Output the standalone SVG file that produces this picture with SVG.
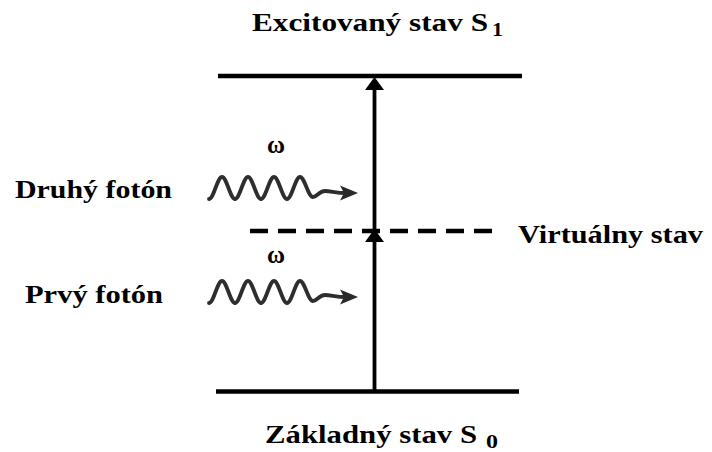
<svg xmlns="http://www.w3.org/2000/svg" width="712" height="452" viewBox="0 0 712 452">
<style>
.lbl{font-family:'Liberation Serif',serif;font-weight:700;font-size:25px;fill:#000}
.sub{font-family:'Liberation Serif',serif;font-weight:700;font-size:19px;fill:#000}
.om{font-family:'Liberation Serif',serif;font-weight:700;font-size:25px;fill:#000}
.lvl{stroke:#000;stroke-width:4.5;fill:none}
.wave{stroke:#2e2e2e;stroke-width:3.8;fill:none;stroke-linecap:round}
</style>
<defs>
<g id="photon">
<path class="wave" d="M209,199 C213.7,199 217.3,177 222,177 C226.7,177 230.3,199 235,199 C239.7,199 243.3,177 248,177 C252.7,177 256.3,199 261,199 C265.7,199 269.3,177 274,177 C278.7,177 282.3,199 287,199 C291.7,199 295.3,177 300,177 C304.7,177 308,197 313,197 C317,197 319,191 325,191 C331,191 336,193 346,193"/>
<polygon points="358,193 340,185.5 344,193 340,200.5" fill="#2a2a2a"/>
</g>
</defs>
<g id="ground-level"><line class="lvl" x1="216" y1="391.5" x2="519" y2="391.5"/></g>
<g id="excited-level"><line class="lvl" x1="218" y1="76" x2="522" y2="76"/></g>
<g id="virtual-level"><line class="lvl" x1="250" y1="231" x2="492" y2="231" stroke-dasharray="18 10"/></g>
<g id="connectors">
<line x1="374.5" y1="392" x2="374.5" y2="80" stroke="#000" stroke-width="3.8"/>
<polygon points="374.5,77 365,90 384,90" fill="#000"/>
<polygon points="374.5,229 365,242 384,242" fill="#000"/>
</g>
<g id="photon1"><use href="#photon"/><text class="om" x="267" y="153" textLength="18" lengthAdjust="spacingAndGlyphs">ω</text></g>
<g id="photon2"><use href="#photon" transform="translate(0,104)"/><text class="om" x="267" y="263" textLength="18" lengthAdjust="spacingAndGlyphs">ω</text></g>
<g id="label-excited"><text class="lbl" x="252" y="31" textLength="236" lengthAdjust="spacingAndGlyphs">Excitovaný stav S</text><text class="sub" x="492" y="36" textLength="11" lengthAdjust="spacingAndGlyphs">1</text></g>
<g id="label-ground"><text class="lbl" x="265" y="443" textLength="212" lengthAdjust="spacingAndGlyphs">Základný stav S</text><text class="sub" x="486" y="448" textLength="12" lengthAdjust="spacingAndGlyphs">0</text></g>
<g id="label-virtual"><text class="lbl" x="518" y="243" textLength="185" lengthAdjust="spacingAndGlyphs">Virtuálny stav</text></g>
<g id="label-second"><text class="lbl" x="15" y="198" textLength="157" lengthAdjust="spacingAndGlyphs">Druhý fotón</text></g>
<g id="label-first"><text class="lbl" x="25" y="303" textLength="138" lengthAdjust="spacingAndGlyphs">Prvý fotón</text></g>
</svg>
